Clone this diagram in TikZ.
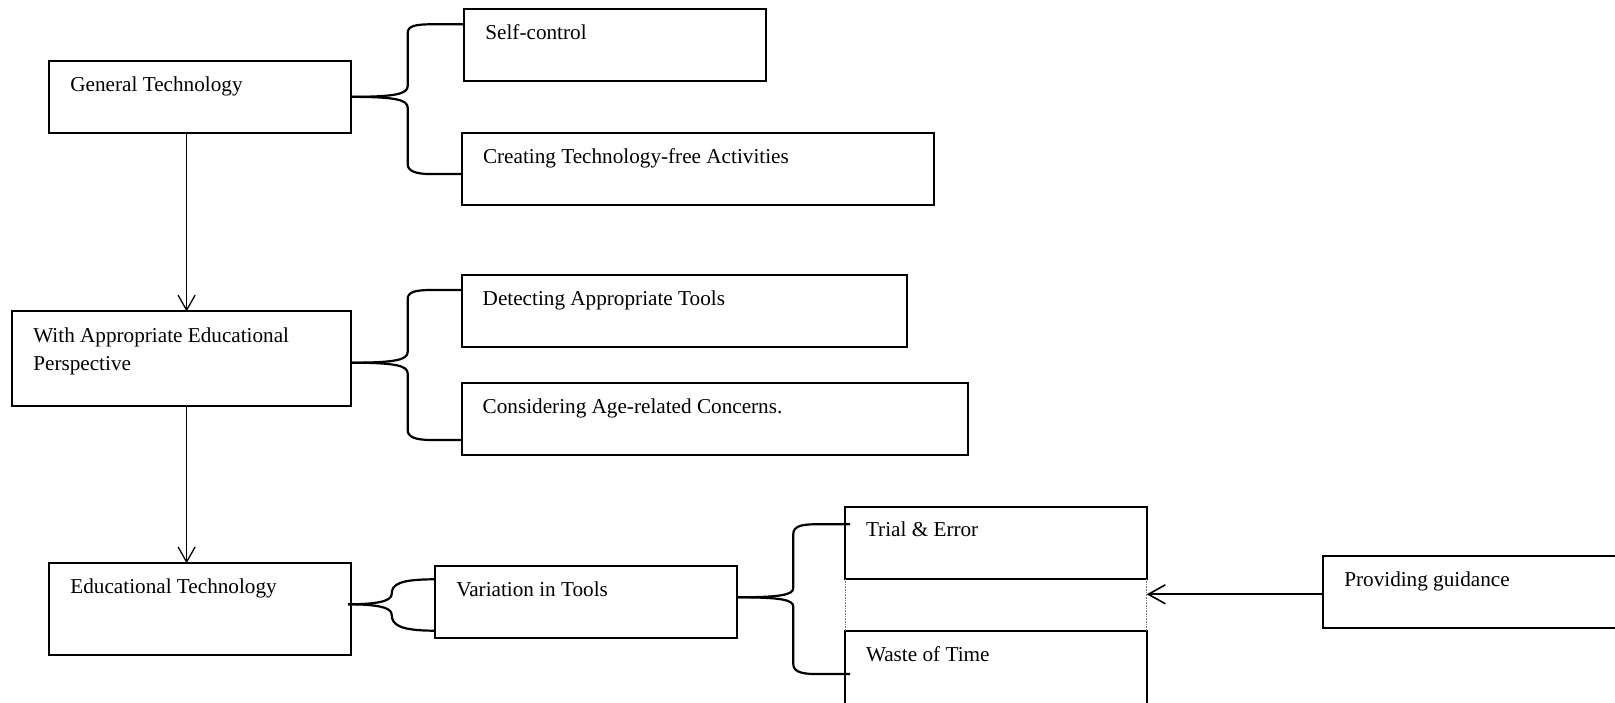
\documentclass[tikz,border=0pt]{standalone}
\usepackage{fontspec}
\setmainfont{Liberation Serif}
\usetikzlibrary{arrows.meta}
\begin{document}
\begin{tikzpicture}[x=1pt,y=-1pt,
  box/.style={draw, line width=2pt, inner sep=0pt, outer sep=0pt, anchor=north west},
  lbl/.style={inner sep=0pt, outer sep=0pt, anchor=base west, font=\fontsize{21.2}{28.3}\selectfont, align=left},
  brace/.style={draw, line width=2.2pt},
  arr/.style={draw, line width=1.3pt, -{Straight Barb[length=15pt,width=17pt,line width=1.3pt]}},
  harr/.style={draw, line width=1.8pt, -{Straight Barb[length=17pt,width=19pt,line width=1.6pt]}},
  dots/.style={draw, gray, densely dotted, line width=0.6pt}]
\useasboundingbox (0,0) rectangle (1615,703);
\clip (0,0) rectangle (1615,703);

% boxes
\node[box, minimum width=301.6pt, minimum height=72.1pt] (gt) at (49.4,60.8) {};
\node[box, minimum width=301.8pt, minimum height=71.5pt] (sc) at (464.4,9.3) {};
\node[box, minimum width=472.2pt, minimum height=71.9pt] (ct) at (462,133.1) {};
\node[box, minimum width=338.7pt, minimum height=94pt] (wa) at (12.3,311.5) {};
\node[box, minimum width=445.7pt, minimum height=72.3pt] (dt) at (461.7,275) {};
\node[box, minimum width=506.5pt, minimum height=71.7pt] (ca) at (461.7,383.3) {};
\node[box, minimum width=301.6pt, minimum height=92pt] (et) at (49.4,563.3) {};
\node[box, minimum width=301.4pt, minimum height=72.3pt] (vt) at (435.3,566) {};
\node[box, minimum width=301.7pt, minimum height=71.9pt] (te) at (845,507.3) {};
\node[box, minimum width=301.7pt, minimum height=75pt] (wt) at (845,630.9) {};
\node[box, minimum width=310pt, minimum height=72.3pt] (pg) at (1323.3,556) {};

% texts
\node[lbl] (gtT) at ([shift={(21,30.5)}]gt.north west) {General Technology};
\node[lbl] (scT) at ([shift={(21,30.5)}]sc.north west) {Self-control};
\node[lbl] (ctT) at ([shift={(21,30.5)}]ct.north west) {Creating Technology-free Activities};
\node[lbl] (waT) at ([shift={(21,59)}]wa.north west) {With Appropriate Educational\\Perspective};
\node[lbl] (dtT) at ([shift={(21,30.5)}]dt.north west) {Detecting Appropriate Tools};
\node[lbl] (caT) at ([shift={(21,30.5)}]ca.north west) {Considering Age-related Concerns.};
\node[lbl] (etT) at ([shift={(21,30.5)}]et.north west) {Educational Technology};
\node[lbl] (vtT) at ([shift={(21,30.5)}]vt.north west) {Variation in Tools};
\node[lbl] (teT) at ([shift={(21,29.5)}]te.north west) {Trial \& Error};
\node[lbl] (wtT) at ([shift={(21,30.5)}]wt.north west) {Waste of Time};
\node[lbl] (pgT) at ([shift={(21,30)}]pg.north west) {Providing guidance};

% vertical arrows
\coordinate (ax) at (186.6,0);
\draw[arr] (gt.south -| ax) -- (wa.north -| ax);
\draw[arr] (wa.south -| ax) -- (et.north -| ax);

% brace 1
\draw[brace] (gt.east) .. controls (395,96.85) and (407.7,94) .. (407.7,86) -- (407.7,33)
  .. controls (407.7,26) and (415,24.3) .. (432,24.3) -- ([shift={(0,15)}]sc.north west);
\draw[brace] (gt.east) .. controls (395,96.85) and (407.7,99.7) .. (407.7,107.7) -- (407.7,164)
  .. controls (407.7,171) and (415,174.1) .. (432,174.1) -- ([shift={(0,41)}]ct.north west);

% brace 2
\coordinate (m2) at ([shift={(0,51.2)}]wa.north east);
\draw[brace] (m2) .. controls (395,362.7) and (407.7,359.9) .. (407.7,351.9) -- (407.7,299)
  .. controls (407.7,292) and (415,290) .. (432,290) -- ([shift={(0,15)}]dt.north west);
\draw[brace] (m2) .. controls (395,362.7) and (407.7,365.5) .. (407.7,373.5) -- (407.7,430)
  .. controls (407.7,437) and (415,440) .. (432,440) -- ([shift={(0,56.7)}]ca.north west);

% brace 3
\coordinate (m3) at ([shift={(-3,41)}]et.north east);
\draw[brace] (m3) .. controls (378,604.3) and (391.7,601) .. (391.7,594)
  .. controls (391.7,584) and (400,579.3) .. ([shift={(0,13.3)}]vt.north west);
\draw[brace] (m3) .. controls (378,604.3) and (391.7,607.6) .. (391.7,614.6)
  .. controls (391.7,625) and (400,630.7) .. ([shift={(0,64.7)}]vt.north west);

% brace 4
\coordinate (m4) at ([shift={(0,31.3)}]vt.north east);
\draw[brace] (m4) .. controls (780,597.3) and (793.3,595) .. (793.3,588) -- (793.3,534)
  .. controls (793.3,527) and (800,524.3) .. (815,524.3) -- ([shift={(5,17)}]te.north west);
\draw[brace] (m4) .. controls (780,597.3) and (793.3,599.6) .. (793.3,606.6) -- (793.3,664)
  .. controls (793.3,671) and (800,674) .. (815,674) -- ([shift={(5,43.1)}]wt.north west);

% dotted gap lines
\draw[dots] (te.south west) -- (wt.north west);
\draw[dots] (te.south east) -- (wt.north east);

% horizontal arrow
\coordinate (hp) at ([shift={(0,38.3)}]pg.north west);
\draw[harr] (hp) -- (hp -| te.east);
\end{tikzpicture}
\end{document}
